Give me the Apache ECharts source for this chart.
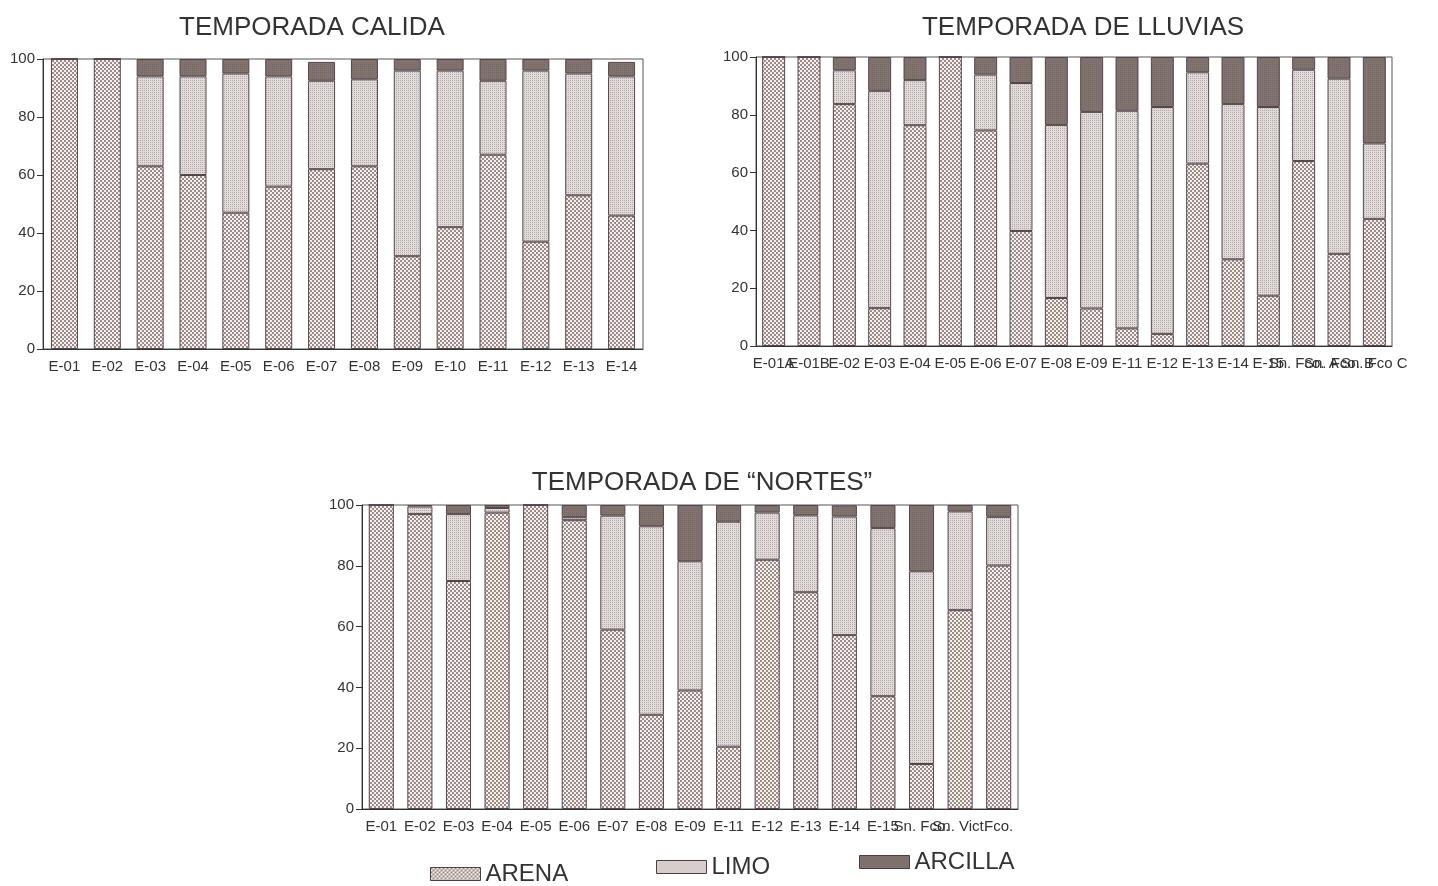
<!DOCTYPE html>
<html>
<head>
<meta charset="utf-8">
<script src="https://cdn.jsdelivr.net/npm/echarts@6/dist/echarts.min.js"></script>
<style>
html,body{margin:0;padding:0;background:#fff;}
#main{width:1438px;height:886px;}
</style>
</head>
<body>
<div id="main"></div>
<script>
// temporada calida
var catCalida = ['E-01','E-02','E-03','E-04','E-05','E-06','E-07','E-08','E-09','E-10','E-11','E-12','E-13','E-14'];
var arenaCalida =   [100, 100, 63, 60, 47, 56, 62,   63, 32, 42, 67,   37, 53, 46];
var limoCalida =    [0,   0,   31, 34, 48, 38, 30.5, 30, 64, 54, 25.5, 59, 42, 48];
var arcillaCalida = [0,   0,   6,  6,  5,  6,  6.5,  7,  4,  4,  7.5,  4,  5,  5];

// temporada de lluvias
var catLluvias = ['E-01A','E-01B','E-02','E-03','E-04','E-05','E-06','E-07','E-08','E-09','E-11','E-12','E-13','E-14','E-15','Sn. Fco. A','Sn. Fco. B','Sn. Fco C'];
var arenaLluvias =   [100, 100, 83.7, 13.1, 76.4, 100, 74.6, 39.8, 16.6, 13, 6.1,  4.2,  63.1, 30,   17.4, 64,   31.9, 44];
var limoLluvias =    [0,   0,   11.7, 75.2, 15.6, 0,   19.3, 51.2, 59.9, 68, 75.3, 78.5, 31.6, 53.7, 65.3, 31.6, 60.6, 26.1];
var arcillaLluvias = [0,   0,   4.6,  11.7, 8,    0,   6.1,  9,    23.5, 19, 18.6, 17.3, 5.3,  16.3, 17.3, 4.4,  7.5,  29.9];

// temporada de "nortes"
var catNortes = ['E-01','E-02','E-03','E-04','E-05','E-06','E-07','E-08','E-09','E-11','E-12','E-13','E-14','E-15','Sn. Fco.','Sn. Vict.','Fco.'];
var arenaNortes =   [100, 97,  75, 97.5, 100, 95, 59,   31, 39,   20.5, 82,   71.3, 57.2, 37.1, 14.8, 65.4, 80.1];
var limoNortes =    [0,   2.5, 22, 1.5,  0,   1,  37.5, 62, 42.5, 74,   15.5, 25.3, 39,   55.3, 63.4, 32.5, 16];
var arcillaNortes = [0,   0.5, 3,  1,    0,   4,  3.5,  7,  18.5, 5.5,  2.5,  3.4,  3.7,  7.6,  21.8, 2.1,  3.9];

var yTicks = [0, 20, 40, 60, 80, 100];

// texturas de relleno
function makePattern(size, draw){
    var c = document.createElement('canvas');
    c.width = size; c.height = size;
    draw(c.getContext('2d'));
    return c;
}
var arenaFill = { image: makePattern(4, function(ctx){
    ctx.fillStyle = '#f4f0ef'; ctx.fillRect(0,0,4,4);
    ctx.fillStyle = '#9c8d8a'; ctx.fillRect(0,0,2,2); ctx.fillRect(2,2,2,2);
}), repeat: 'repeat' };
var limoFill = { image: makePattern(2, function(ctx){
    ctx.fillStyle = '#e0dad9'; ctx.fillRect(0,0,2,2);
    ctx.fillStyle = '#b6abaa'; ctx.fillRect(0,0,1,1);
}), repeat: 'repeat' };
var arcillaFill = { image: makePattern(2, function(ctx){
    ctx.fillStyle = '#817370'; ctx.fillRect(0,0,2,2);
    ctx.fillStyle = '#766966'; ctx.fillRect(0,0,1,1);
}), repeat: 'repeat' };

var fills = { ARENA: arenaFill, LIMO: limoFill, ARCILLA: arcillaFill };
var txtFont = 'Liberation Sans, Arial, sans-serif';

var grids = [
    { left: 43, top: 59, width: 600, height: 290, show: true, borderColor: '#555', borderWidth: 1, backgroundColor: '#fff' },
    { left: 756, top: 57, width: 636, height: 289, show: true, borderColor: '#555', borderWidth: 1, backgroundColor: '#fff' },
    { left: 362, top: 505, width: 656, height: 304, show: true, borderColor: '#555', borderWidth: 1, backgroundColor: '#fff' }
];
var cats = [catCalida, catLluvias, catNortes];
var data = [
    [arenaCalida, limoCalida, arcillaCalida],
    [arenaLluvias, limoLluvias, arcillaLluvias],
    [arenaNortes, limoNortes, arcillaNortes]
];
var barW = ['63%', '65%', '65%'];

var xAxes = [], yAxes = [], series = [];
for (var g = 0; g < 3; g++) {
    xAxes.push({
        type: 'category', gridIndex: g, data: cats[g],
        axisLine: { lineStyle: { color: '#333', width: 1 } },
        axisTick: { show: false },
        axisLabel: { interval: 0, color: '#333', fontSize: 15, fontFamily: txtFont, margin: 10 }
    });
    yAxes.push({
        type: 'value', gridIndex: g, min: yTicks[0], max: yTicks[yTicks.length-1], interval: yTicks[1] - yTicks[0],
        axisLine: { show: true, lineStyle: { color: '#333', width: 1 } },
        axisTick: { show: true, length: 6, lineStyle: { color: '#333' } },
        splitLine: { show: false },
        axisLabel: { color: '#333', fontSize: 15, fontFamily: txtFont, margin: 8 }
    });
    ['ARENA', 'LIMO', 'ARCILLA'].forEach(function(name, k){
        series.push({
            name: name, type: 'bar', stack: 'total' + g,
            xAxisIndex: g, yAxisIndex: g,
            barWidth: barW[g],
            data: data[g][k],
            itemStyle: { color: fills[name], borderColor: '#54474a', borderWidth: 1 },
            emphasis: { disabled: true }
        });
    });
}

function legendItem(name, left, top){
    return {
        left: left, top: top, padding: 0, itemWidth: 50, itemHeight: 13, icon: 'rect',
        data: [{ name: name, itemStyle: { color: fills[name], borderColor: '#4a3f3d', borderWidth: 1 } }],
        textStyle: { fontFamily: 'Liberation Sans Narrow, Liberation Sans, sans-serif', fontSize: 24, color: '#333' },
        selectedMode: false
    };
}

var chart = echarts.init(document.getElementById('main'), null, { renderer: 'canvas' });
chart.setOption({
    backgroundColor: '#fff',
    animation: false,
    title: [
        { text: 'TEMPORADA CALIDA', left: 307, top: 10, textAlign: 'center', textStyle: { fontFamily: txtFont, fontSize: 26, fontWeight: 'normal', color: '#333' } },
        { text: 'TEMPORADA DE LLUVIAS', left: 1078, top: 10, textAlign: 'center', textStyle: { fontFamily: txtFont, fontSize: 26, fontWeight: 'normal', color: '#333' } },
        { text: 'TEMPORADA DE \u201cNORTES\u201d', left: 697, top: 465, textAlign: 'center', textStyle: { fontFamily: txtFont, fontSize: 26, fontWeight: 'normal', color: '#333' } }
    ],
    legend: [
        legendItem('ARENA', 430, 862),
        legendItem('LIMO', 656, 855),
        legendItem('ARCILLA', 859, 850)
    ],
    grid: grids,
    xAxis: xAxes,
    yAxis: yAxes,
    series: series
});
</script>
</body>
</html>
